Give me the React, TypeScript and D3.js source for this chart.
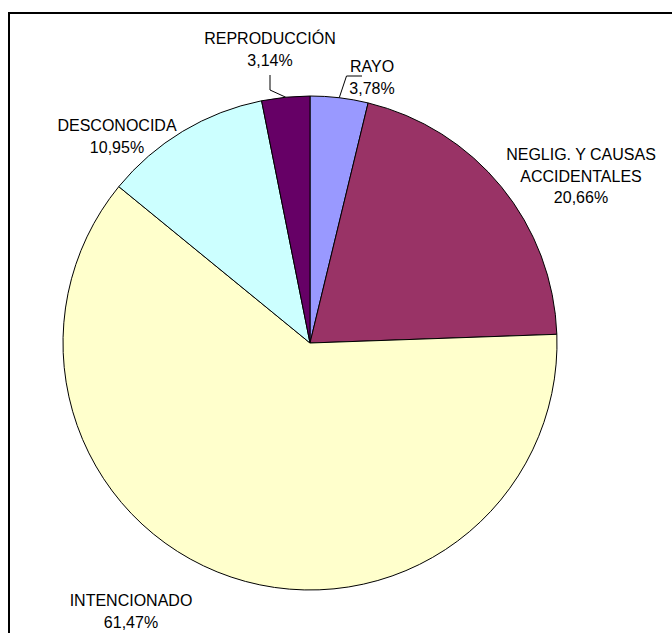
import React from "react";
import * as d3 from "d3";

const categories = ["RAYO", "NEGLIG. Y CAUSAS|ACCIDENTALES", "INTENCIONADO", "DESCONOCIDA", "REPRODUCCIÓN"];
const values = [3.78, 20.66, 61.47, 10.95, 3.14];
const labels = ["3,78%", "20,66%", "61,47%", "10,95%", "3,14%"];
const colors = ["#9999FF", "#993366", "#FFFFCC", "#CCFFFF", "#660066"];

const W = 672;
const H = 633;
const CX = 310;
const CY = 343;
const R = 247;
const FONT = 16;
const LH = 21.5;

// label block: center x, baseline of first line
const labelLayout = [
  { x: 372, y: 72 },
  { x: 581, y: 160 },
  { x: 131, y: 606 },
  { x: 117, y: 131 },
  { x: 270, y: 44 },
];

export default function App() {
  const pie = d3.pie<number>().sort(null).value((d) => d).startAngle(0).endAngle(2 * Math.PI);
  const arcs = pie(values);
  const arcGen = d3.arc<d3.PieArcDatum<number>>().innerRadius(0).outerRadius(R);

  const edgePoint = (a: d3.PieArcDatum<number>) => {
    const m = (a.startAngle + a.endAngle) / 2;
    return [CX + R * Math.sin(m), CY - R * Math.cos(m)];
  };

  const rayoEdge = edgePoint(arcs[0]);
  const reproEdge = edgePoint(arcs[4]);

  return (
    <svg
      width={W}
      height={H}
      style={{ position: "absolute", left: 0, top: 0, background: "#fff" }}
      fontFamily="'Liberation Sans', Arial, sans-serif"
    >
      <rect x={9} y={13} width={W + 20} height={H + 20} fill="#fff" stroke="#000" strokeWidth={2} />
      <g transform={`translate(${CX},${CY})`}>
        {arcs.map((a, i) => (
          <path key={i} d={arcGen(a) || ""} fill={colors[i]} stroke="#000" strokeWidth={1} />
        ))}
      </g>
      {/* leader lines */}
      <polyline
        points={`${rayoEdge[0]},${rayoEdge[1]} 346.5,76 362,76`}
        fill="none"
        stroke="#000"
        strokeWidth={1}
      />
      <polyline
        points={`${reproEdge[0]},${reproEdge[1]} 270,90 270,75`}
        fill="none"
        stroke="#000"
        strokeWidth={1}
      />
      {categories.map((c, i) => {
        const lines = [...c.split("|"), labels[i]];
        const p = labelLayout[i];
        return (
          <text key={i} textAnchor="middle" fontSize={FONT} fill="#000">
            {lines.map((l, j) => (
              <tspan key={j} x={p.x} y={p.y + j * LH}>
                {l}
              </tspan>
            ))}
          </text>
        );
      })}
    </svg>
  );
}
